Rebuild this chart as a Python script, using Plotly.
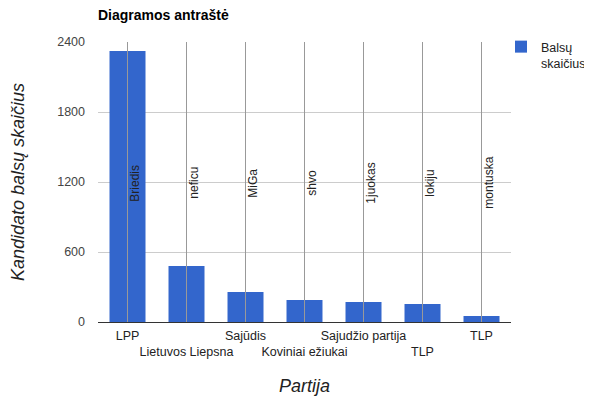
import plotly.graph_objects as go

categories = ["LPP", "Lietuvos Liepsna", "Sajūdis", "Koviniai ežiukai",
              "Sajudžio partija", "TLP", "TLP"]
cat_keys = ["c0", "c1", "c2", "c3", "c4", "c5", "c6"]
votes = [2323, 480, 257, 189, 172, 155, 51]
annotation_labels = ["Briedis", "neficu", "MiGa", "shvo", "1juokas", "lokiju", "montuska"]
y_ticks = [0, 600, 1200, 1800, 2400]
series_name = "Balsų<br>skaičius"

FONT = "Liberation Sans, Arial, sans-serif"

# The page body has an 8px margin, so the figure is sized/offset to compensate.
W, H = 584, 389
L, T, R, B = 90, 34, 81, 75
PLOT_W = W - L - R

# stagger tick labels in two rows like the reference
tick_text = [c if i % 2 == 0 else " <br>" + c for i, c in enumerate(categories)]

fig = go.Figure()
fig.add_trace(go.Bar(
    x=cat_keys, y=votes, name=series_name,
    marker=dict(color="#3366cc", line=dict(width=0)),
    showlegend=True,
))

shapes = []
annotations = []
for k, lab in zip(cat_keys, annotation_labels):
    shapes.append(dict(type="line", xref="x", yref="paper", x0=k, x1=k, y0=0, y1=1,
                       line=dict(color="#999999", width=1), layer="above"))
    annotations.append(dict(x=k, y=1190, xref="x", yref="y", text=lab, textangle=-90,
                            showarrow=False, xshift=8, yanchor="middle", xanchor="center",
                            font=dict(family=FONT, size=12, color="#222222")))

fig.update_layout(
    width=W, height=H,
    margin=dict(l=L, r=R, t=T, b=B, autoexpand=False),
    paper_bgcolor="white", plot_bgcolor="white",
    bargap=0.39,
    font=dict(family=FONT, size=13, color="#444444"),
    title=dict(text="<b>Diagramos antraštė</b>", x=L / W, xanchor="left",
               y=1 - 7 / H, yanchor="middle",
               font=dict(family=FONT, size=14, color="#000000")),
    xaxis=dict(
        tickmode="array", tickvals=cat_keys, ticktext=tick_text, tickangle=0,
        showgrid=False, showline=False, ticks="", ticklabelstandoff=4,
        tickfont=dict(family=FONT, size=12.5, color="#222222"),
        title=dict(text="Partija", standoff=21,
                   font=dict(family=FONT, size=18, color="#222222", style="italic")),
        automargin=False,
    ),
    yaxis=dict(
        range=[0, 2400], tickmode="array", tickvals=y_ticks,
        showgrid=True, gridcolor="#cccccc", gridwidth=1,
        zeroline=True, zerolinecolor="#333333", zerolinewidth=1,
        showline=False, ticks="", ticklabelstandoff=12,
        tickfont=dict(family=FONT, size=12.5, color="#444444"),
        title=dict(text="Kandidato balsų skaičius", standoff=38,
                   font=dict(family=FONT, size=18, color="#222222", style="italic")),
        automargin=False,
    ),
    legend=dict(x=(493 - L) / PLOT_W, xanchor="left", y=1 + 10 / (H - T - B),
                yanchor="top", valign="top",
                bgcolor="rgba(0,0,0,0)",
                font=dict(family=FONT, size=12.5, color="#222222"),
                itemwidth=30),
    shapes=shapes,
    annotations=annotations,
)

fig.write_html("out.html")
